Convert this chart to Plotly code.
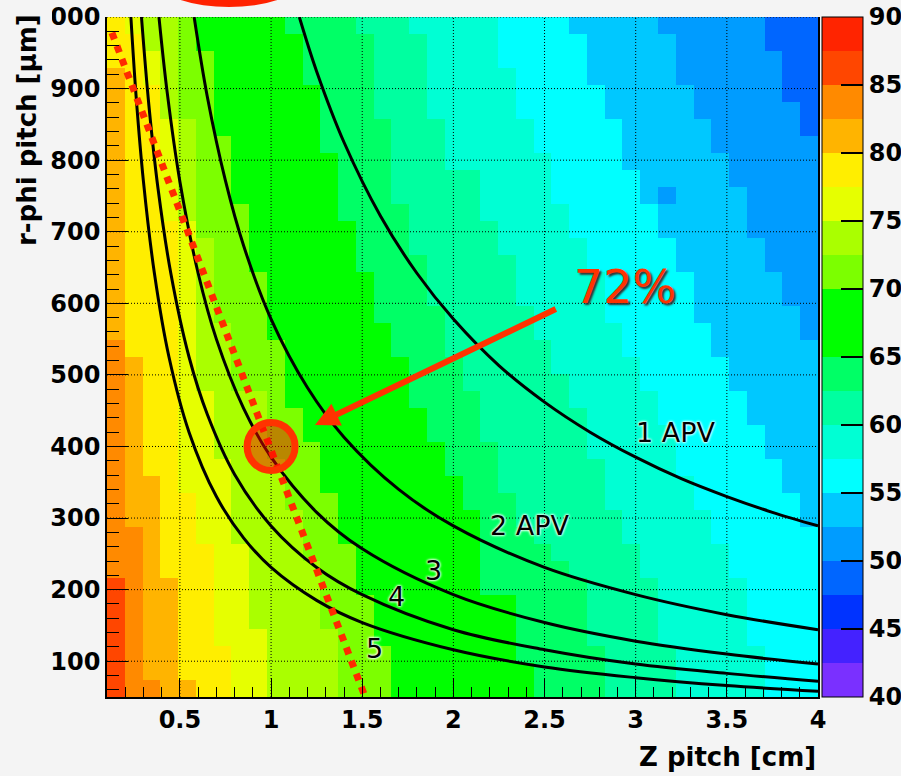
import plotly.graph_objects as go

# ---------------- data ----------------
# histogram binning (40 x 40 cells)
x_min, x_max, n_x = 0.1, 4.0, 40
y_min, y_max, n_y = 50.0, 1000.0, 40

# efficiency bands (value representative of each 2.5 % colour band)
# For every row (row 0 = bottom) : first column whose efficiency is <= band value
start_84 = [1] * 7 + [0] * 33
start_81 = [3] + [2] * 9 + [1] * 11 + [0] * 19
start_79 = [5] + [4] * 6 + [3] * 6 + [2] * 7 + [1] * 17 + [0] * 3
start_76 = [7] * 3 + [6] * 6 + [5] * 3 + [4] * 16 + [3] * 8 + [2] * 3 + [1]
start_74 = [9] * 4 + [8] * 5 + [7] * 5 + [6] * 4 + [5] * 10 + [4] * 6 + [3] * 4 + [2] * 2
start_71 = [13] * 4 + [12] * 4 + [11] * 3 + [10] * 3 + [9] * 4 + [7] * 4 + [6] * 5 + [5] * 7 + [4] * 6
start_69 = [16] * 3 + [15] * 3 + [14] * 3 + [13] * 3 + [12] * 3 + [11] * 2 + [10] * 4 + [9] * 4 + [8] * 4 + [7] * 4 + [6] * 5 + [5] * 2
start_64 = [24] * 2 + [23] * 4 + [21] * 5 + [20] * 2 + [19] * 2 + [18] * 2 + [17] * 3 + [16] * 2 + [15] * 3 + [14] * 3 + [13] * 4 + [12] * 4 + [11] * 3 + [10]
start_61 = [28] * 3 + [27] * 4 + [26] + [25] + [24] + [23] * 2 + [22] * 3 + [21] * 3 + [20] * 2 + [19] * 3 + [18] * 3 + [17] * 3 + [16] * 5 + [15] * 5 + [14]
start_59 = [32] * 3 + [31] * 4 + [30] * 2 + [29] * 2 + [28] * 3 + [27] * 3 + [26] * 2 + [25] * 2 + [24] * 2 + [23] * 3 + [22] * 2 + [21] * 3 + [19] * 3 + [18] * 5 + [17]
start_56 = [37] * 3 + [36] * 4 + [35] * 2 + [34] * 2 + [33] * 2 + [32] * 3 + [31] * 2 + [30] * 2 + [29] * 2 + [28] * 3 + [27] * 2 + [26] * 2 + [25] * 3 + [24] * 2 + [23] * 3 + [22] * 3
start_54 = [40] * 10 + [39] * 2 + [38] * 2 + [37] * 2 + [36] * 2 + [35] * 2 + [34] * 2 + [33] * 3 + [32] * 2 + [31] * 2 + [30] * 2 + [29] * 3 + [28] * 2 + [27] * 3 + [26]
start_51 = [40] * 21 + [39] * 2 + [38] * 2 + [37] * 2 + [36] * 3 + [35] * 2 + [34] * 2 + [33] * 2 + [32] * 3 + [31]
start_49 = [40] * 33 + [39] * 2 + [38] * 3 + [37] * 2
top_value = 86
single_cells = [(29, 31, 51)]  # (row, col, value)

# colour scale (20 bands of 2.5 % from 40 to 90)
z_lo, z_hi = 40, 90
palette = ["#7a30ff", "#4422ff", "#0033ff", "#0066ff", "#009cff", "#00c8ff",
           "#00ffff", "#00ffd4", "#00ffa0", "#00ff66", "#00ff00", "#00ff00",
           "#7cff00", "#aaff00", "#e6ff00", "#ffee00", "#ffb400", "#ff8a00",
           "#ff4600", "#ff2400"]
cbar_ticks = [40, 45, 50, 55, 60, 65, 70, 75, 80, 85, 90]

# axis ticks / grid
x_grid = [0.5, 1.0, 1.5, 2.0, 2.5, 3.0, 3.5]
y_grid = [100, 200, 300, 400, 500, 600, 700, 800, 900, 1000]

# iso-readout curves (number of APV chips), points read on the picture
apv1_x = [1.155, 1.25, 1.4, 1.6, 1.8, 2.0, 2.25, 2.5, 2.75, 3.0, 3.25, 3.5, 3.75, 4.0]
apv1_y = [1000, 924, 825, 722, 642, 578, 513, 462, 420, 385, 355, 330, 308, 289]
apv2_x = [0.578, 0.65, 0.75, 0.85, 1.0, 1.2, 1.4, 1.7, 2.0, 2.5, 3.0, 3.5, 4.0]
apv2_y = [1000, 889, 771, 680, 578, 482, 413, 340, 289, 231, 193, 165, 144]
apv3_x = [0.385, 0.43, 0.5, 0.6, 0.7, 0.85, 1.0, 1.25, 1.5, 2.0, 2.5, 3.0, 3.5, 4.0]
apv3_y = [1000, 895, 770, 642, 550, 453, 385, 308, 257, 193, 154, 128, 110, 96]
apv4_x = [0.289, 0.33, 0.38, 0.45, 0.55, 0.65, 0.8, 1.0, 1.25, 1.5, 2.0, 2.5, 3.0, 3.5, 4.0]
apv4_y = [1000, 876, 760, 642, 525, 445, 361, 289, 231, 193, 144, 116, 96, 83, 72]
apv5_x = [0.231, 0.26, 0.3, 0.36, 0.44, 0.55, 0.7, 0.85, 1.0, 1.25, 1.5, 2.0, 2.5, 3.0, 3.5, 4.0]
apv5_y = [1000, 888, 770, 642, 525, 420, 330, 272, 231, 185, 154, 116, 92, 77, 66, 58]

# curve labels (text, x, y)
curve_labels = [("1 APV", 3.22, 420), ("2 APV", 2.42, 289),
                ("3", 1.89, 227), ("4", 1.69, 191), ("5", 1.565, 118)]

# red dotted line, marked point and arrow
red_line_x = [0.127, 1.51]
red_line_y = [978, 54]
mark_x, mark_y = 1.0, 400
arrow_tail = (2.57, 593)
arrow_tip = (1.241, 430)
mark_text = "72%"
mark_text_pos = (2.94, 623)

# ---------------- build figure ----------------
dx = (x_max - x_min) / n_x
dy = (y_max - y_min) / n_y
starts = [(84, start_84), (81, start_81), (79, start_79), (76, start_76),
          (74, start_74), (71, start_71), (69, start_69), (64, start_64),
          (61, start_61), (59, start_59), (56, start_56), (54, start_54),
          (51, start_51), (49, start_49)]
z = []
for r in range(n_y):
    row = []
    for c in range(n_x):
        v = top_value
        for val, st in starts:
            if c >= st[r]:
                v = val
        row.append(v)
    z.append(row)
for r, c, v in single_cells:
    z[r][c] = v

n_band = len(palette)
cs = []
for i, col in enumerate(palette):
    cs.append([i / n_band, col])
    cs.append([(i + 1) / n_band, col])

# page geometry
SX0, SX1, SY0, SY1 = 107, 818, 17, 697   # plot area on screen
PW, PH = SX1 - SX0, SY1 - SY0
W, H = 901, 776
L, T = SX0, SY0
R, B = W - L - PW, H - T - PH


def px(sx):
    return (sx - SX0) / PW


def py(sy):
    return (SY1 - sy) / PH


bold = dict(family="DejaVu Sans", size=24, color="black", weight="bold")

fig = go.Figure()
fig.add_trace(go.Heatmap(
    z=z, x0=x_min + dx / 2, dx=dx, y0=y_min + dy / 2, dy=dy,
    zmin=z_lo, zmax=z_hi, colorscale=cs, hoverinfo="skip",
    colorbar=dict(thickness=41, thicknessmode="pixels", len=1.0, lenmode="fraction",
                  x=px(822), xanchor="left", xpad=0, y=0.5, yanchor="middle", ypad=0,
                  outlinecolor="black", outlinewidth=1, ticklabeloverflow="allow",
                  tickvals=cbar_ticks, ticks="inside", ticklen=22, tickwidth=1.5,
                  tickcolor="black", tickfont=bold)))

gx, gy = [], []
for v in x_grid:
    gx += [v, v, None]
    gy += [y_min, y_max, None]
for v in y_grid:
    gx += [x_min, x_max, None]
    gy += [v, v, None]
fig.add_trace(go.Scatter(x=gx, y=gy, mode="lines", hoverinfo="skip",
                         line=dict(color="black", width=1, dash="1px,2px"), showlegend=False))

for cx, cy in [(apv1_x, apv1_y), (apv2_x, apv2_y), (apv3_x, apv3_y), (apv4_x, apv4_y), (apv5_x, apv5_y)]:
    fig.add_trace(go.Scatter(x=cx, y=cy, mode="lines", hoverinfo="skip", showlegend=False,
                             line=dict(color="black", width=3, shape="spline", smoothing=1)))

fig.add_trace(go.Scatter(x=red_line_x, y=red_line_y, mode="lines", hoverinfo="skip", showlegend=False,
                         line=dict(color="#ff2a00", width=7, dash="7px,7px")))

rx_data = 24 / (PW / (x_max - x_min))
ry_data = 24 / (PH / (y_max - y_min))
shapes = [
    dict(type="circle", xref="x", yref="y", x0=mark_x - rx_data, x1=mark_x + rx_data,
         y0=mark_y - ry_data, y1=mark_y + ry_data, line=dict(color="#ff3300", width=7),
         fillcolor="rgba(255,0,0,0.47)", layer="above"),
    # red blob at the top border of the slide
    dict(type="circle", xref="paper", yref="paper", x0=px(162), x1=px(296),
         y0=py(7), y1=py(-39), line=dict(width=0), fillcolor="#ff2200", layer="above"),
    # hide the leading "1" of the 1000 label (covered in the original)
    dict(type="rect", xref="paper", yref="paper", x0=px(28), x1=px(52),
         y0=py(36), y1=py(4), line=dict(width=0), fillcolor="#f4f4f4", layer="above"),
]

halo = "0px 0px 3px white, 0px 0px 3px white, 0px 0px 2px white"
annotations = []
for txt, ax_, ay_ in curve_labels:
    annotations.append(dict(x=ax_, y=ay_, xref="x", yref="y", text=txt, showarrow=False,
                            font=dict(family="DejaVu Sans", size=27, color="black", shadow=halo)))
annotations.append(dict(x=arrow_tip[0], y=arrow_tip[1], xref="x", yref="y",
                        ax=arrow_tail[0], ay=arrow_tail[1], axref="x", ayref="y",
                        text="", showarrow=True, arrowhead=2, arrowsize=0.8, arrowwidth=6,
                        arrowcolor="#ff3300", standoff=0, startstandoff=0))
annotations.append(dict(x=mark_text_pos[0], y=mark_text_pos[1], xref="x", yref="y", text=mark_text,
                        showarrow=False,
                        font=dict(family="DejaVu Sans", size=46, color="#ff3300",
                                  shadow="2px 2px 2px #333333")))
annotations.append(dict(x=px(27), y=py(130), xref="paper", yref="paper",
                        text="r-phi pitch [µm]", textangle=-90, showarrow=False,
                        xanchor="center", yanchor="middle",
                        font=dict(family="DejaVu Sans", size=26, color="black", weight="bold")))
annotations.append(dict(x=px(818), y=py(757), xref="paper", yref="paper",
                        text="Z pitch [cm]", showarrow=False, xanchor="right", yanchor="middle",
                        font=dict(family="DejaVu Sans", size=26, color="black", weight="bold")))

fig.update_layout(
    width=W, height=H, autosize=False,
    margin=dict(l=L, r=R, t=T, b=B, pad=0, autoexpand=False),
    paper_bgcolor="#f4f4f4", plot_bgcolor="#f4f4f4",
    showlegend=False, shapes=shapes, annotations=annotations,
    xaxis=dict(range=[x_min, x_max], tick0=0, dtick=0.5, ticks="inside", ticklen=19,
               tickwidth=1, tickcolor="black", showgrid=False, zeroline=False,
               showline=True, linecolor="black", linewidth=1.5, layer="above traces",
               tickfont=bold, automargin=False, ticklabeloverflow="allow",
               minor=dict(ticks="inside", ticklen=10, dtick=0.1, tick0=0, tickcolor="black",
                          tickwidth=1, showgrid=False)),
    yaxis=dict(range=[y_min, y_max], tick0=0, dtick=100, ticks="inside", ticklen=21,
               tickwidth=1, tickcolor="black", showgrid=False, zeroline=False,
               showline=True, mirror=True, linecolor="black", linewidth=1.5,
               layer="above traces", tickfont=bold, automargin=False, ticklabeloverflow="allow",
               minor=dict(ticks="inside", ticklen=12, dtick=20, tick0=0, tickcolor="black",
                          tickwidth=1, showgrid=False)),
)

fig.write_html("out.html", config={"displayModeBar": False},
               post_script="document.body.style.margin='0';document.body.style.padding='0';"
                           "document.body.style.overflow='hidden';")
